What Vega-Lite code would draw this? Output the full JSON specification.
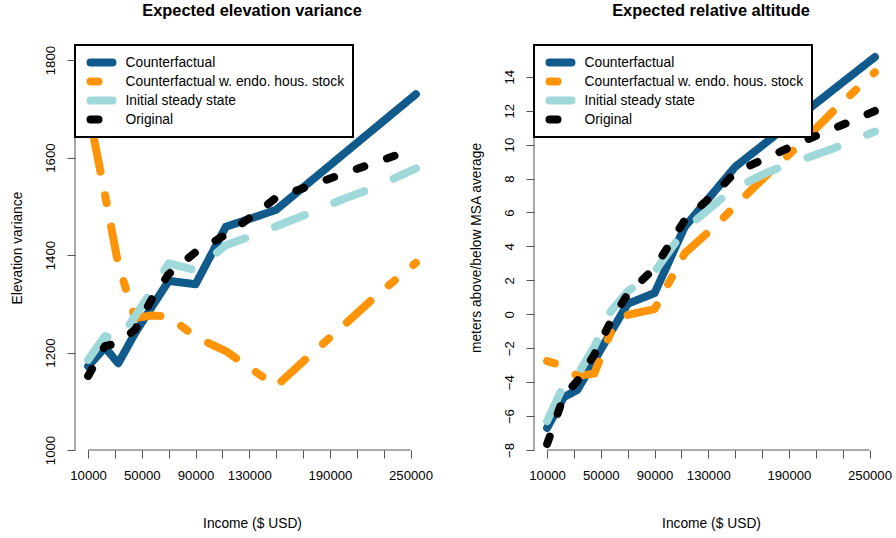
{
  "$schema": "https://vega.github.io/schema/vega-lite/v6.json",
  "background": "white",
  "padding": {"left": 10, "top": 3, "right": 0, "bottom": 0},
  "config": {
    "font": "Liberation Sans",
    "view": {"stroke": null},
    "title": {"fontSize": 16.4, "fontWeight": "bold", "baseline": "alphabetic", "offset": 24.5, "color": "black", "anchor": "middle"},
    "axis": {
      "labelFontSize": 13.2, "titleFontSize": 13.8, "titleFontWeight": "normal",
      "labelColor": "black", "titleColor": "black", "grid": false, "domain": false,
      "tickColor": "#555", "tickSize": 8, "tickWidth": 1, "labelOverlap": false, "labelSeparation": -100
    },
    "axisX": {"labelBaseline": "alphabetic", "labelPadding": 21.5, "titleBaseline": "alphabetic", "titlePadding": 46, "labelFlush": false, "labelBound": false},
    "axisY": {"labelAngle": 270, "labelAlign": "center", "labelBaseline": "alphabetic", "labelPadding": 12.3, "titleBaseline": "alphabetic", "titlePadding": 22.5, "labelFlush": false},
    "legend": {
      "title": null, "orient": "top-left", "offset": 0,
      "strokeColor": "black", "strokeWidth": 2, "fillColor": "white", "padding": 8,
      "symbolType": "M-2.2,0L2.2,0", "symbolSize": 100, "symbolStrokeWidth": 8, "symbolOpacity": 1, "symbolOffset": 9.5,
      "clipHeight": 19,
      "labelFontSize": 13.8, "labelColor": "black", "labelOffset": 15, "labelLimit": 0, "rowPadding": 0
    }
  },
  "datasets": {
    "elevation": [
      {"series": "Counterfactual", "income": 10000, "value": 1172},
      {"series": "Counterfactual", "income": 22500, "value": 1210},
      {"series": "Counterfactual", "income": 32500, "value": 1178},
      {"series": "Counterfactual", "income": 45000, "value": 1240},
      {"series": "Counterfactual", "income": 57500, "value": 1294},
      {"series": "Counterfactual", "income": 70000, "value": 1347},
      {"series": "Counterfactual", "income": 90000, "value": 1340},
      {"series": "Counterfactual", "income": 112500, "value": 1458},
      {"series": "Counterfactual", "income": 137500, "value": 1481},
      {"series": "Counterfactual", "income": 150000, "value": 1493},
      {"series": "Counterfactual", "income": 175000, "value": 1550},
      {"series": "Counterfactual", "income": 200000, "value": 1607},
      {"series": "Counterfactual", "income": 225000, "value": 1664},
      {"series": "Counterfactual", "income": 254000, "value": 1730},
      {"series": "Counterfactual w. endo. hous. stock", "income": 10000, "value": 1700},
      {"series": "Counterfactual w. endo. hous. stock", "income": 22500, "value": 1525},
      {"series": "Counterfactual w. endo. hous. stock", "income": 32500, "value": 1380},
      {"series": "Counterfactual w. endo. hous. stock", "income": 45000, "value": 1271},
      {"series": "Counterfactual w. endo. hous. stock", "income": 57500, "value": 1276},
      {"series": "Counterfactual w. endo. hous. stock", "income": 70000, "value": 1274},
      {"series": "Counterfactual w. endo. hous. stock", "income": 90000, "value": 1232},
      {"series": "Counterfactual w. endo. hous. stock", "income": 112500, "value": 1203},
      {"series": "Counterfactual w. endo. hous. stock", "income": 137500, "value": 1155},
      {"series": "Counterfactual w. endo. hous. stock", "income": 150000, "value": 1131},
      {"series": "Counterfactual w. endo. hous. stock", "income": 175000, "value": 1194},
      {"series": "Counterfactual w. endo. hous. stock", "income": 200000, "value": 1255},
      {"series": "Counterfactual w. endo. hous. stock", "income": 225000, "value": 1318},
      {"series": "Counterfactual w. endo. hous. stock", "income": 254000, "value": 1384},
      {"series": "Initial steady state", "income": 10000, "value": 1185},
      {"series": "Initial steady state", "income": 22500, "value": 1234},
      {"series": "Initial steady state", "income": 32500, "value": 1223},
      {"series": "Initial steady state", "income": 45000, "value": 1275},
      {"series": "Initial steady state", "income": 57500, "value": 1326},
      {"series": "Initial steady state", "income": 70000, "value": 1383},
      {"series": "Initial steady state", "income": 90000, "value": 1369},
      {"series": "Initial steady state", "income": 112500, "value": 1420},
      {"series": "Initial steady state", "income": 137500, "value": 1445},
      {"series": "Initial steady state", "income": 150000, "value": 1459},
      {"series": "Initial steady state", "income": 175000, "value": 1486},
      {"series": "Initial steady state", "income": 200000, "value": 1515},
      {"series": "Initial steady state", "income": 225000, "value": 1541},
      {"series": "Initial steady state", "income": 254000, "value": 1578},
      {"series": "Original", "income": 10000, "value": 1152},
      {"series": "Original", "income": 22500, "value": 1213},
      {"series": "Original", "income": 32500, "value": 1220},
      {"series": "Original", "income": 45000, "value": 1247},
      {"series": "Original", "income": 57500, "value": 1310},
      {"series": "Original", "income": 70000, "value": 1361},
      {"series": "Original", "income": 90000, "value": 1406},
      {"series": "Original", "income": 112500, "value": 1442},
      {"series": "Original", "income": 137500, "value": 1490},
      {"series": "Original", "income": 150000, "value": 1518},
      {"series": "Original", "income": 175000, "value": 1542},
      {"series": "Original", "income": 200000, "value": 1567},
      {"series": "Original", "income": 225000, "value": 1591},
      {"series": "Original", "income": 254000, "value": 1619}
    ],
    "altitude": [
      {"series": "Counterfactual", "income": 10000, "value": -6.7},
      {"series": "Counterfactual", "income": 22500, "value": -4.88},
      {"series": "Counterfactual", "income": 32500, "value": -4.46},
      {"series": "Counterfactual", "income": 45000, "value": -2.76},
      {"series": "Counterfactual", "income": 57500, "value": -1.05},
      {"series": "Counterfactual", "income": 70000, "value": 0.62},
      {"series": "Counterfactual", "income": 90000, "value": 1.25},
      {"series": "Counterfactual", "income": 112500, "value": 5.16},
      {"series": "Counterfactual", "income": 137500, "value": 7.51},
      {"series": "Counterfactual", "income": 150000, "value": 8.69},
      {"series": "Counterfactual", "income": 175000, "value": 10.25},
      {"series": "Counterfactual", "income": 200000, "value": 11.8},
      {"series": "Counterfactual", "income": 225000, "value": 13.36},
      {"series": "Counterfactual", "income": 254000, "value": 15.16},
      {"series": "Counterfactual w. endo. hous. stock", "income": 10000, "value": -2.76},
      {"series": "Counterfactual w. endo. hous. stock", "income": 22500, "value": -3.05},
      {"series": "Counterfactual w. endo. hous. stock", "income": 32500, "value": -3.64},
      {"series": "Counterfactual w. endo. hous. stock", "income": 45000, "value": -3.5},
      {"series": "Counterfactual w. endo. hous. stock", "income": 57500, "value": -1.05},
      {"series": "Counterfactual w. endo. hous. stock", "income": 70000, "value": -0.04},
      {"series": "Counterfactual w. endo. hous. stock", "income": 90000, "value": 0.3},
      {"series": "Counterfactual w. endo. hous. stock", "income": 112500, "value": 3.6},
      {"series": "Counterfactual w. endo. hous. stock", "income": 137500, "value": 5.38},
      {"series": "Counterfactual w. endo. hous. stock", "income": 150000, "value": 6.4},
      {"series": "Counterfactual w. endo. hous. stock", "income": 175000, "value": 8.32},
      {"series": "Counterfactual w. endo. hous. stock", "income": 200000, "value": 10.15},
      {"series": "Counterfactual w. endo. hous. stock", "income": 225000, "value": 12.13},
      {"series": "Counterfactual w. endo. hous. stock", "income": 254000, "value": 14.27},
      {"series": "Initial steady state", "income": 10000, "value": -6.3},
      {"series": "Initial steady state", "income": 22500, "value": -4.15},
      {"series": "Initial steady state", "income": 32500, "value": -3.6},
      {"series": "Initial steady state", "income": 45000, "value": -1.93},
      {"series": "Initial steady state", "income": 57500, "value": 0.19},
      {"series": "Initial steady state", "income": 70000, "value": 1.35},
      {"series": "Initial steady state", "income": 90000, "value": 2.5},
      {"series": "Initial steady state", "income": 112500, "value": 5.0},
      {"series": "Initial steady state", "income": 137500, "value": 6.67},
      {"series": "Initial steady state", "income": 150000, "value": 7.44},
      {"series": "Initial steady state", "income": 175000, "value": 8.4},
      {"series": "Initial steady state", "income": 200000, "value": 9.12},
      {"series": "Initial steady state", "income": 225000, "value": 9.83},
      {"series": "Initial steady state", "income": 254000, "value": 10.77},
      {"series": "Original", "income": 10000, "value": -7.65},
      {"series": "Original", "income": 22500, "value": -4.8},
      {"series": "Original", "income": 32500, "value": -3.93},
      {"series": "Original", "income": 45000, "value": -2.4},
      {"series": "Original", "income": 57500, "value": -0.4},
      {"series": "Original", "income": 70000, "value": 1.19},
      {"series": "Original", "income": 90000, "value": 2.72},
      {"series": "Original", "income": 112500, "value": 5.55},
      {"series": "Original", "income": 137500, "value": 7.32},
      {"series": "Original", "income": 150000, "value": 8.38},
      {"series": "Original", "income": 175000, "value": 9.27},
      {"series": "Original", "income": 200000, "value": 10.18},
      {"series": "Original", "income": 225000, "value": 11.0},
      {"series": "Original", "income": 254000, "value": 11.98}
    ]
  },
  "bounds": "flush",
  "spacing": 105,
  "resolve": {
    "scale": {"color": "independent", "strokeDash": "independent", "x": "independent", "y": "independent"},
    "legend": {"color": "independent", "strokeDash": "independent"}
  },
  "hconcat": [
    {
      "width": 354,
      "height": 405,
      "title": {"text": "Expected elevation variance"},
      "layer": [
        {
          "data": {"name": "elevation"},
          "mark": {"type": "line", "strokeWidth": 8, "strokeCap": "round", "strokeJoin": "round"},
          "encoding": {
            "x": {
              "field": "income", "type": "quantitative",
              "scale": {"domain": [240, 263760], "nice": false, "zero": false},
              "axis": {
                "title": "Income ($ USD)",
                "values": [10000, 30000, 50000, 70000, 90000, 110000, 130000, 150000, 170000, 190000, 210000, 230000, 250000],
                "format": "d", "labelOverlap": false, "labelSeparation": -100,
                "labelExpr": "indexof([10000, 50000, 90000, 130000, 190000, 250000], datum.value) >= 0 ? datum.label : ''"
              }
            },
            "y": {
              "field": "value", "type": "quantitative",
              "scale": {"domain": [1000, 1831], "nice": false, "zero": false},
              "axis": {"title": "Elevation variance", "values": [1000, 1200, 1400, 1600, 1800], "format": "d", "labelOverlap": false, "labelSeparation": -100}
            },
            "color": {
              "field": "series", "type": "nominal",
              "scale": {
                "domain": ["Counterfactual", "Counterfactual w. endo. hous. stock", "Initial steady state", "Original"],
                "range": ["#115a8c", "#ff9408", "#9ed8d8", "#000000"]
              },
              "legend": {"encode": {"symbols": {"update": {"strokeCap": {"value": "round"}}}}}
            },
            "strokeDash": {
              "field": "series", "type": "nominal",
              "scale": {
                "domain": ["Counterfactual", "Counterfactual w. endo. hous. stock", "Initial steady state", "Original"],
                "range": [[1, 0], [8, 24, 32, 24], [32, 32], [8, 24]]
              },
              "legend": {"encode": {"symbols": {"update": {"strokeCap": {"value": "round"}}}}}
            }
          }
        },
        {
          "data": {"values": [{}]},
          "mark": {"type": "rule", "color": "#555", "strokeWidth": 1},
          "encoding": {
            "x": {
              "datum": 240, "type": "quantitative",
              "axis": {
                "title": "Income ($ USD)",
                "values": [10000, 30000, 50000, 70000, 90000, 110000, 130000, 150000, 170000, 190000, 210000, 230000, 250000],
                "format": "d", "labelOverlap": false, "labelSeparation": -100,
                "labelExpr": "indexof([10000, 50000, 90000, 130000, 190000, 250000], datum.value) >= 0 ? datum.label : ''"
              }
            },
            "y": {
              "datum": 1000, "type": "quantitative",
              "axis": {"title": "Elevation variance", "values": [1000, 1200, 1400, 1600, 1800], "format": "d", "labelOverlap": false, "labelSeparation": -100}
            },
            "y2": {"datum": 1800}
          }
        },
        {
          "data": {"values": [{}]},
          "mark": {"type": "rule", "color": "#555", "strokeWidth": 1},
          "encoding": {
            "x": {
              "datum": 10000, "type": "quantitative",
              "axis": {
                "title": "Income ($ USD)",
                "values": [10000, 30000, 50000, 70000, 90000, 110000, 130000, 150000, 170000, 190000, 210000, 230000, 250000],
                "format": "d", "labelOverlap": false, "labelSeparation": -100,
                "labelExpr": "indexof([10000, 50000, 90000, 130000, 190000, 250000], datum.value) >= 0 ? datum.label : ''"
              }
            },
            "x2": {"datum": 250000},
            "y": {
              "datum": 1000, "type": "quantitative",
              "axis": {"title": "Elevation variance", "values": [1000, 1200, 1400, 1600, 1800], "format": "d", "labelOverlap": false, "labelSeparation": -100}
            }
          }
        }
      ]
    },
    {
      "width": 354,
      "height": 405,
      "title": {"text": "Expected relative altitude"},
      "layer": [
        {
          "data": {"name": "altitude"},
          "mark": {"type": "line", "strokeWidth": 8, "strokeCap": "round", "strokeJoin": "round"},
          "encoding": {
            "x": {
              "field": "income", "type": "quantitative",
              "scale": {"domain": [240, 263760], "nice": false, "zero": false},
              "axis": {
                "title": "Income ($ USD)",
                "values": [10000, 30000, 50000, 70000, 90000, 110000, 130000, 150000, 170000, 190000, 210000, 230000, 250000],
                "format": "d", "labelOverlap": false, "labelSeparation": -100,
                "labelExpr": "indexof([10000, 50000, 90000, 130000, 190000, 250000], datum.value) >= 0 ? datum.label : ''"
              }
            },
            "y": {
              "field": "value", "type": "quantitative",
              "scale": {"domain": [-8, 15.87], "nice": false, "zero": false},
              "axis": {"title": "meters above/below MSA average", "values": [-8, -6, -4, -2, 0, 2, 4, 6, 8, 10, 12, 14], "format": "d", "labelOverlap": false, "labelSeparation": -100}
            },
            "color": {
              "field": "series", "type": "nominal",
              "scale": {
                "domain": ["Counterfactual", "Counterfactual w. endo. hous. stock", "Initial steady state", "Original"],
                "range": ["#115a8c", "#ff9408", "#9ed8d8", "#000000"]
              },
              "legend": {"encode": {"symbols": {"update": {"strokeCap": {"value": "round"}}}}}
            },
            "strokeDash": {
              "field": "series", "type": "nominal",
              "scale": {
                "domain": ["Counterfactual", "Counterfactual w. endo. hous. stock", "Initial steady state", "Original"],
                "range": [[1, 0], [8, 24, 32, 24], [32, 32], [8, 24]]
              },
              "legend": {"encode": {"symbols": {"update": {"strokeCap": {"value": "round"}}}}}
            }
          }
        },
        {
          "data": {"values": [{}]},
          "mark": {"type": "rule", "color": "#555", "strokeWidth": 1},
          "encoding": {
            "x": {
              "datum": 240, "type": "quantitative",
              "axis": {
                "title": "Income ($ USD)",
                "values": [10000, 30000, 50000, 70000, 90000, 110000, 130000, 150000, 170000, 190000, 210000, 230000, 250000],
                "format": "d", "labelOverlap": false, "labelSeparation": -100,
                "labelExpr": "indexof([10000, 50000, 90000, 130000, 190000, 250000], datum.value) >= 0 ? datum.label : ''"
              }
            },
            "y": {
              "datum": -8, "type": "quantitative",
              "axis": {"title": "meters above/below MSA average", "values": [-8, -6, -4, -2, 0, 2, 4, 6, 8, 10, 12, 14], "format": "d", "labelOverlap": false, "labelSeparation": -100}
            },
            "y2": {"datum": 14}
          }
        },
        {
          "data": {"values": [{}]},
          "mark": {"type": "rule", "color": "#555", "strokeWidth": 1},
          "encoding": {
            "x": {
              "datum": 10000, "type": "quantitative",
              "axis": {
                "title": "Income ($ USD)",
                "values": [10000, 30000, 50000, 70000, 90000, 110000, 130000, 150000, 170000, 190000, 210000, 230000, 250000],
                "format": "d", "labelOverlap": false, "labelSeparation": -100,
                "labelExpr": "indexof([10000, 50000, 90000, 130000, 190000, 250000], datum.value) >= 0 ? datum.label : ''"
              }
            },
            "x2": {"datum": 250000},
            "y": {
              "datum": -8, "type": "quantitative",
              "axis": {"title": "meters above/below MSA average", "values": [-8, -6, -4, -2, 0, 2, 4, 6, 8, 10, 12, 14], "format": "d", "labelOverlap": false, "labelSeparation": -100}
            }
          }
        }
      ]
    }
  ]
}
